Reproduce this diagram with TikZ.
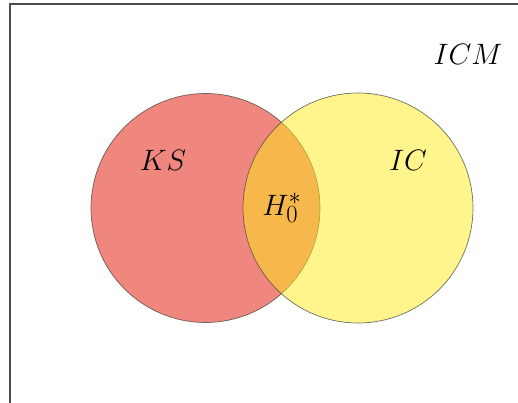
\documentclass[tikz,border=0pt]{standalone}
\begin{document}
\begin{tikzpicture}[x=1pt,y=-1pt,
  setcircle/.style={draw=black!75, line width=0.7pt, draw opacity=0.75, fill opacity=0.5},
  setlabel/.style={inner sep=0pt, font=\Huge, scale=1.186, transform shape}]
\definecolor{ksbase}{RGB}{225,15,0}
\definecolor{icbase}{RGB}{255,235,25}
\useasboundingbox (0,0) rectangle (518,403);
\clip (0,0) rectangle (518,403);
\draw[draw=black!70, line width=2pt] (9.5,420) -- (9.5,4.5) -- (540,4.5);
\path[setcircle, fill=ksbase] (205.5,208) circle[radius=114.5];
\path[setcircle, fill=icbase] (358,208) circle[radius=115];
\node[setlabel] (ks) at (163,160) {$KS$};
\node[setlabel] (ic) at (408,160) {$IC$};
\node[setlabel] (h) at (282,208) {$H_0^*$};
\node[setlabel] (icm) at (468,54) {$ICM$};
\end{tikzpicture}
\end{document}
